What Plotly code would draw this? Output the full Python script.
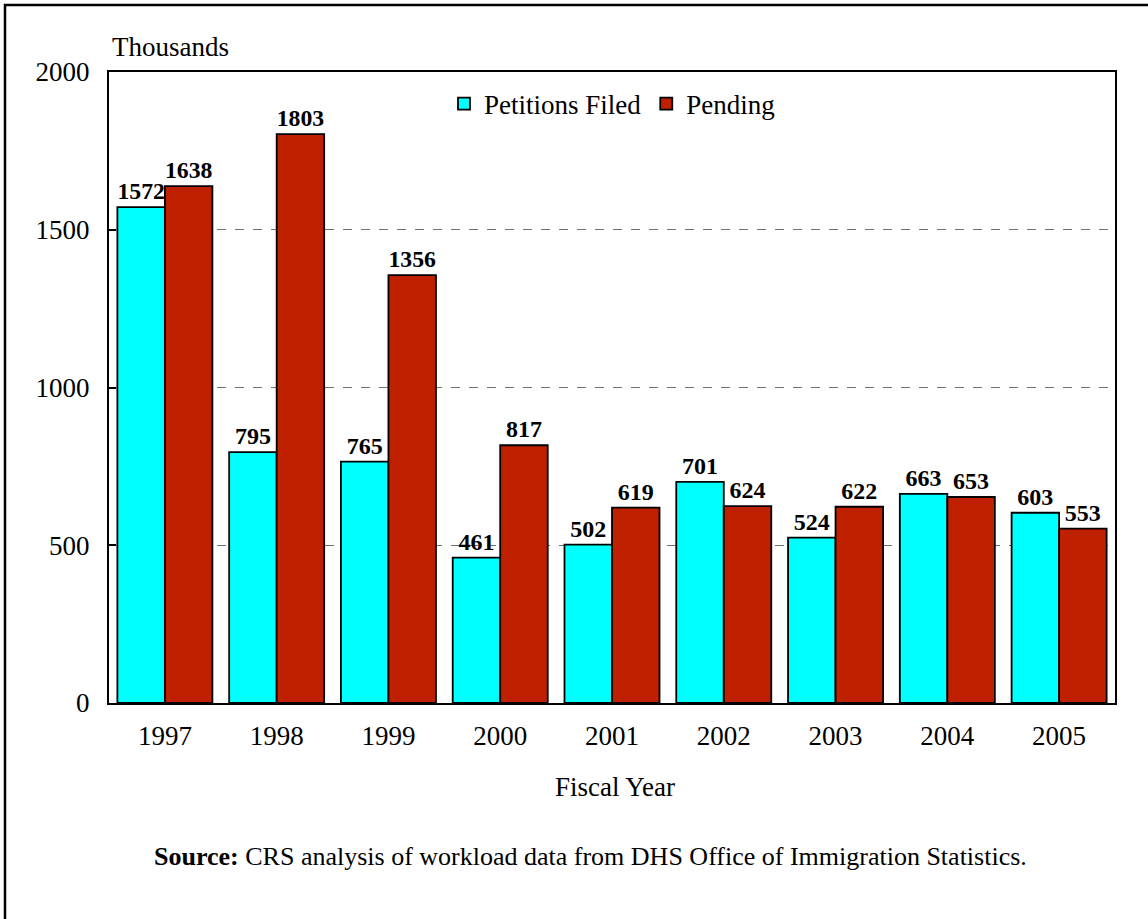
import plotly.graph_objects as go

years = ["1997", "1998", "1999", "2000", "2001", "2002", "2003", "2004", "2005"]
petitions_filed = [1572, 795, 765, 461, 502, 701, 524, 663, 603]
pending = [1638, 1803, 1356, 817, 619, 624, 622, 653, 553]
y_ticks = [0, 500, 1000, 1500, 2000]

W, H = 1148, 919
L, R, T, B = 109, 1115, 72, 703
pw, ph = R - L, B - T

def px_x(x):
    return (x - L) / pw

def px_y(y):
    return (B - y) / ph

FONT = "Liberation Serif, Times New Roman, serif"

fig = go.Figure()
fig.add_trace(go.Bar(
    x=years, y=petitions_filed, name="Petitions Filed",
    marker=dict(color="#00FFFF", line=dict(color="black", width=1.8)),
    text=petitions_filed, textposition="outside",
    textfont=dict(family=FONT, size=24, color="black", weight="bold"),
    cliponaxis=False,
))
fig.add_trace(go.Bar(
    x=years, y=pending, name="Pending",
    marker=dict(color="#BF2000", line=dict(color="black", width=1.8)),
    text=pending, textposition="outside",
    textfont=dict(family=FONT, size=24, color="black", weight="bold"),
    cliponaxis=False,
))

fig.update_layout(
    width=W, height=H,
    margin=dict(l=L, r=W - R, t=T, b=H - B, pad=0),
    paper_bgcolor="white", plot_bgcolor="white",
    barmode="group", bargap=0.15, bargroupgap=0,
    font=dict(family=FONT, size=27, color="black"),
    showlegend=True,
    legend=dict(orientation="h", x=0.5, xanchor="center", y=px_y(104), yanchor="middle",
                font=dict(family=FONT, size=27), bgcolor="rgba(0,0,0,0)",
                itemwidth=30, tracegroupgap=0),
    xaxis=dict(type="category", showline=True, linecolor="black", linewidth=2, mirror=True,
               ticks="", tickfont=dict(family=FONT, size=27), showgrid=False,
               ticklabelstandoff=8),
    yaxis=dict(range=[0, 2000], tickvals=y_ticks, showline=True, linecolor="black", linewidth=2,
               mirror=True, ticks="inside", ticklen=7, tickcolor="black", tickwidth=1.5,
               tickfont=dict(family=FONT, size=27), showgrid=True, gridcolor="#707070",
               griddash="dash", gridwidth=1, zeroline=False, ticklabelstandoff=12),
)

fig.add_annotation(text="Thousands", xref="paper", yref="paper", x=px_x(110), y=px_y(47),
                   xanchor="left", yanchor="middle", showarrow=False, font=dict(family=FONT, size=27))
fig.add_annotation(text="Fiscal Year", xref="paper", yref="paper", x=px_x(615), y=px_y(787),
                   xanchor="center", yanchor="middle", showarrow=False, font=dict(family=FONT, size=27))
fig.add_annotation(text="<b>Source:</b> CRS analysis of workload data from DHS Office of Immigration Statistics.",
                   xref="paper", yref="paper", x=px_x(590), y=px_y(856),
                   xanchor="center", yanchor="middle", showarrow=False, font=dict(family=FONT, size=26))

fig.add_shape(type="rect", xref="paper", yref="paper",
              x0=px_x(5), x1=px_x(1152), y0=px_y(925), y1=px_y(5),
              line=dict(color="black", width=2.5), fillcolor="rgba(0,0,0,0)", layer="above")

fig.write_html("out.html", config={"displayModeBar": False},
               post_script="document.body.style.margin='0';")
